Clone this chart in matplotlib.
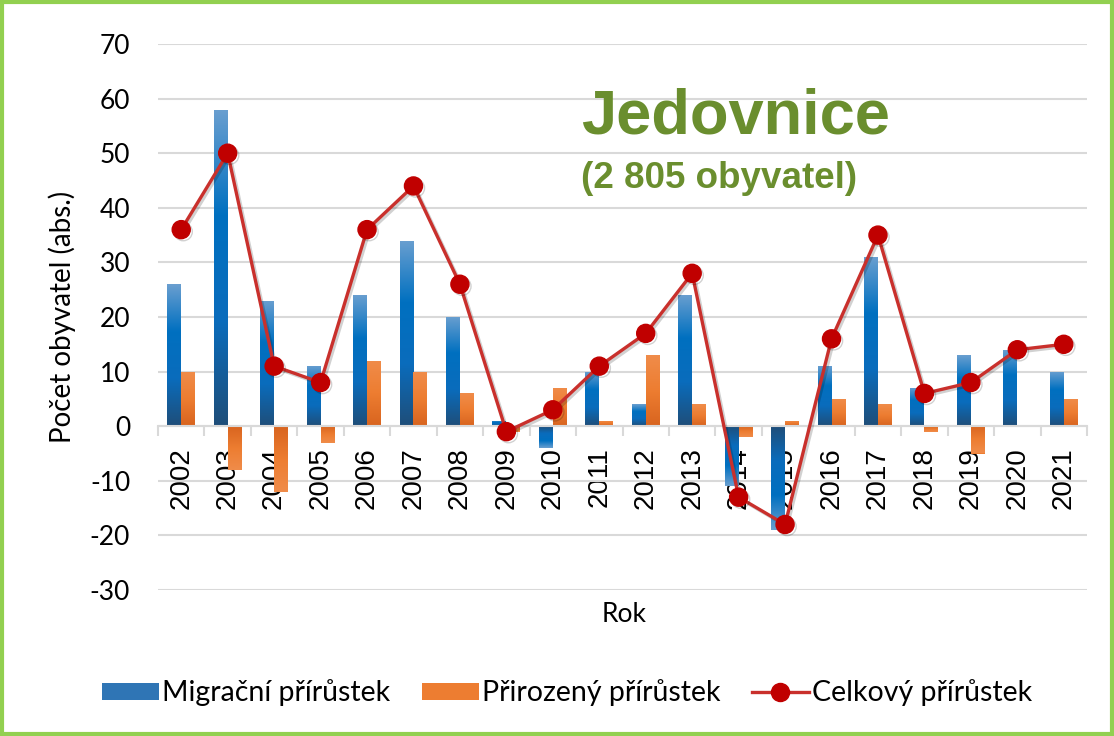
import numpy as np
import matplotlib
matplotlib.use('Agg')
import matplotlib.pyplot as plt
from matplotlib.colors import LinearSegmentedColormap
from matplotlib.patches import Patch, Rectangle
from matplotlib.lines import Line2D
import matplotlib.patheffects as pe

# Data
years = [str(y) for y in range(2002, 2022)]
migracni = [26, 58, 23, 11, 24, 34, 20, 1, -4, 10, 4, 24, -11, -19, 11, 31, 7, 13, 14, 10]
prirozeny = [10, -8, -12, -3, 12, 10, 6, -1, 7, 1, 13, 4, -2, 1, 5, 4, -1, -5, 0, 5]
celkovy = [36, 50, 11, 8, 36, 44, 26, -1, 3, 11, 17, 28, -13, -18, 16, 35, 6, 8, 14, 15]

plt.rcParams['font.family'] = ['Lato', 'DejaVu Sans']
plt.rcParams['axes.unicode_minus'] = False

fig = plt.figure(figsize=(11.14, 7.36), dpi=100)
ax = fig.add_axes([158 / 1114, 1 - 590 / 736, 929 / 1114, 546 / 736])

x = np.arange(len(years))
w = 0.30

blue_cmap = LinearSegmentedColormap.from_list('b', ['#1f4e79', '#0a6cbc', '#0070c0', '#6a9fd0'])
orange_cmap = LinearSegmentedColormap.from_list('o', ['#d8641f', '#ed7d31', '#f08c4a'])

bars_m = ax.bar(x - w / 2, migracni, width=w, color='#2f75b5', zorder=2)
bars_p = ax.bar(x + w / 2, prirozeny, width=w, color='#ed7d31', zorder=2)

# gradient fill in each bar: dark at the base, light at the tip
grad = np.linspace(0, 1, 256).reshape(-1, 1)
for bars, cmap in [(bars_m, blue_cmap), (bars_p, orange_cmap)]:
    for rect in bars:
        bx, by = rect.get_x(), rect.get_y()
        bw, bh = rect.get_width(), rect.get_height()
        if bh == 0:
            continue
        img = grad if bh > 0 else grad[::-1]
        lo, hi = min(by, by + bh), max(by, by + bh)
        im = ax.imshow(img, extent=[bx, bx + bw, lo, hi], origin='lower',
                       aspect='auto', cmap=cmap, zorder=2.1)
        im.set_clip_path(rect)

ax.plot(x, celkovy, color='#c9302c', lw=2.4, marker='o', markersize=13,
        markerfacecolor='#c00000', markeredgecolor='#c00000', zorder=4,
        path_effects=[pe.SimpleLineShadow(offset=(1.5, -1.5), alpha=0.18), pe.Normal()])

ax.set_xlim(-0.5, len(years) - 0.5)
ax.set_ylim(-30, 70)
ax.set_yticks(range(-30, 71, 10))
ax.grid(axis='y', color='#d9d9d9', lw=1.5, zorder=0)
ax.set_axisbelow(True)

for s in ['top', 'right', 'left']:
    ax.spines[s].set_visible(False)
ax.spines['bottom'].set_position(('data', 0))
ax.spines['bottom'].set_color('#d9d9d9')
ax.spines['bottom'].set_linewidth(1.5)

ax.set_xticks(x)
ax.set_xticklabels(years, rotation=90, fontsize=20, family='Liberation Sans')
ax.set_xticks(np.arange(-0.5, len(years), 1), minor=True)
ax.tick_params(axis='x', which='major', length=0, pad=15)
ax.tick_params(axis='x', which='minor', length=7, color='#d9d9d9', width=1.5)
ax.tick_params(axis='y', length=0, pad=20, labelsize=19)

ax.set_ylabel('Počet obyvatel (abs.)', fontsize=20, labelpad=10)
fig.text(624 / 1114, 1 - 615 / 736, 'Rok', fontsize=19, ha='center', va='center')

green = '#6a8e2e'
fig.text(581 / 1114, 1 - 117 / 736, 'Jedovnice', fontsize=45.5, fontweight='bold',
         color=green, ha='left', va='center', family='Liberation Sans')
fig.text(581 / 1114, 1 - 178 / 736, '(2 805 obyvatel)', fontsize=26.5, fontweight='bold',
         color=green, ha='left', va='center', family='Liberation Sans')

handles = [Patch(facecolor='#2f75b5'), Patch(facecolor='#ed7d31'),
           Line2D([], [], color='#c9302c', lw=2.4, marker='o', markersize=13,
                  markerfacecolor='#c00000', markeredgecolor='#c00000')]
fig.legend(handles, ['Migrační přírůstek', 'Přirozený přírůstek', 'Celkový přírůstek'],
           loc='center', bbox_to_anchor=(567 / 1114, 1 - 693 / 736), ncol=3,
           frameon=False, fontsize=20.5, handlelength=2.0, handleheight=0.55,
           columnspacing=1.1, handletextpad=0.12)

fig.patches.append(Rectangle((0.002, 0.003), 0.996, 0.994, transform=fig.transFigure,
                             fill=False, edgecolor='#92d050', lw=3))

fig.savefig('out.png', dpi=100)
